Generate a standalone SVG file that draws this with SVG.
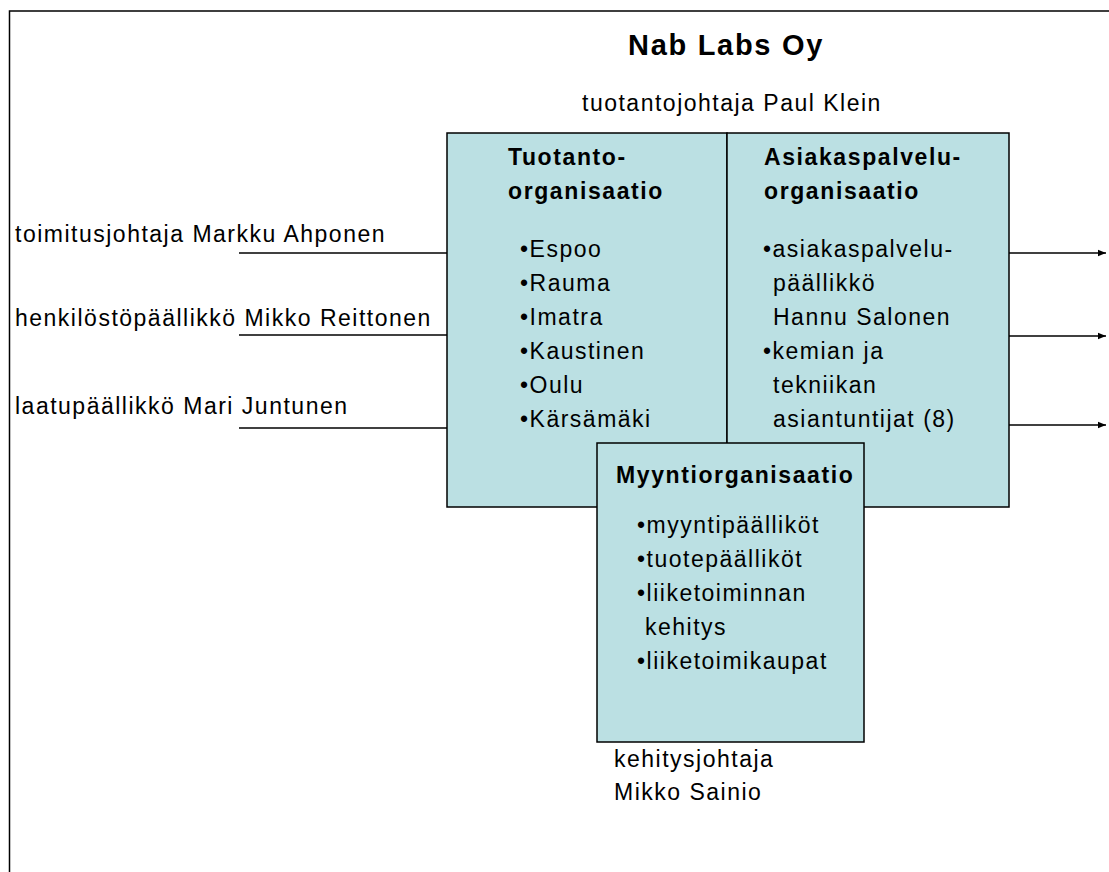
<svg xmlns="http://www.w3.org/2000/svg" width="1109" height="872" viewBox="0 0 1109 872">
<defs>
<style>
text{font-family:"Liberation Sans",Arial,sans-serif;font-size:23px;letter-spacing:1.5px;fill:#000}
.b{font-weight:bold;letter-spacing:1.6px}
.t{font-size:29px;font-weight:bold;letter-spacing:1.7px}
.box{fill:#BBE0E3;stroke:#000;stroke-width:1.5}
.ln{stroke:#000;stroke-width:1.5;fill:none}
</style>
<marker id="ah" viewBox="0 0 10 10" refX="10" refY="5" markerWidth="8" markerHeight="8" markerUnits="userSpaceOnUse" orient="auto"><path d="M0,1 L10,5 L0,9 Z" fill="#000"/></marker>
</defs>
<rect width="1109" height="872" fill="#fff"/>
<path class="ln" d="M1120,11 H9.5 V880" stroke-width="2"/>
<g id="title">
<text class="t" x="628" y="55">Nab Labs Oy</text>
<text x="582" y="111">tuotantojohtaja Paul Klein</text>
</g>
<g id="tuotanto">
<rect class="box" x="447" y="133" width="280" height="374"/>
<text class="b" x="508" y="165">Tuotanto-</text>
<text class="b" x="508" y="199">organisaatio</text>
<text x="520" y="257">•Espoo</text>
<text x="520" y="291">•Rauma</text>
<text x="520" y="325">•Imatra</text>
<text x="520" y="359">•Kaustinen</text>
<text x="520" y="393">•Oulu</text>
<text x="520" y="427">•Kärsämäki</text>
</g>
<g id="asiakaspalvelu">
<rect class="box" x="727" y="133" width="282" height="374"/>
<text class="b" x="764" y="165">Asiakaspalvelu-</text>
<text class="b" x="764" y="199">organisaatio</text>
<text x="763" y="257">•asiakaspalvelu-</text>
<text x="773" y="291">päällikkö</text>
<text x="773" y="325">Hannu Salonen</text>
<text x="763" y="359">•kemian ja</text>
<text x="773" y="393">tekniikan</text>
<text x="773" y="427">asiantuntijat (8)</text>
</g>
<g id="myynti">
<rect class="box" x="597" y="443" width="267" height="299"/>
<text class="b" x="616" y="483">Myyntiorganisaatio</text>
<text x="637" y="533">•myyntipäälliköt</text>
<text x="637" y="567">•tuotepäälliköt</text>
<text x="637" y="601">•liiketoiminnan</text>
<text x="645" y="635">kehitys</text>
<text x="637" y="669">•liiketoimikaupat</text>
</g>
<g id="kehitys">
<text x="614" y="767">kehitysjohtaja</text>
<text x="614" y="800">Mikko Sainio</text>
</g>
<g id="left-labels">
<text x="15" y="242">toimitusjohtaja Markku Ahponen</text>
<text x="15" y="326">henkilöstöpäällikkö Mikko Reittonen</text>
<text x="15" y="414">laatupäällikkö Mari Juntunen</text>
</g>
<g id="connectors">
<line class="ln" x1="239" y1="253" x2="447" y2="253"/>
<line class="ln" x1="239" y1="335" x2="447" y2="335"/>
<line class="ln" x1="239" y1="428" x2="447" y2="428"/>
<line class="ln" x1="1009" y1="253" x2="1106" y2="253" marker-end="url(#ah)"/>
<line class="ln" x1="1009" y1="336" x2="1106" y2="336" marker-end="url(#ah)"/>
<line class="ln" x1="1009" y1="425" x2="1106" y2="425" marker-end="url(#ah)"/>
</g>
</svg>
